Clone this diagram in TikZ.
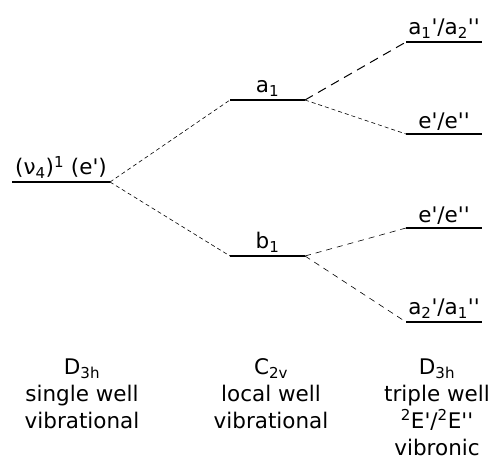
\documentclass[tikz,border=0pt]{standalone}
\usepackage{fontspec}
\setmainfont{DejaVu Sans}[Ligatures=TeXOff]
\begin{document}
\begin{tikzpicture}[x=1pt, y=-1pt,
    level/.style={line width=2.8pt},
    link/.style={line width=0.6pt, dash pattern=on 4pt off 3pt},
    linkwide/.style={line width=1pt, dash pattern=on 9pt off 6pt},
    lbl/.style={above=1pt, inner sep=1pt, font=\fontsize{21.5}{24}\selectfont},
    col/.style={align=center, font=\fontsize{21.5}{27}\selectfont}]

            \useasboundingbox (0,0) rectangle (494,462);

            % Draw the D3h single well level
            \draw[level] (12,182) coordinate (gL) -- (110,182) coordinate (gR)
                node[lbl, midway] (gT) {(ν\textsubscript{4})\textsuperscript{1} (e')};

            % Draw the C2v levels
            \draw[level] (230,100) coordinate (aL) -- (305,100) coordinate (aR)
                node[lbl, midway] (aT) {a\textsubscript{1}};
            \draw[level] (230,256) coordinate (bL) -- (305,256) coordinate (bR)
                node[lbl, midway] (bT) {b\textsubscript{1}};

            % Draw the triple well levels
            \draw[level] (406,42) coordinate (r1L) -- (482,42) coordinate (r1R)
                node[lbl, midway] (r1T) {a\textsubscript{1}'/a\textsubscript{2}''};
            \draw[level] (406,134) coordinate (r2L) -- (482,134) coordinate (r2R)
                node[lbl, midway] (r2T) {e'/e''};
            \draw[level] (406,228) coordinate (r3L) -- (482,228) coordinate (r3R)
                node[lbl, midway] (r3T) {e'/e''};
            \draw[level] (406,322) coordinate (r4L) -- (482,322) coordinate (r4R)
                node[lbl, midway] (r4T) {a\textsubscript{2}'/a\textsubscript{1}''};

            % Correlation lines
            \draw[link] (gR) -- (aL);
            \draw[link] (gR) -- (bL);
            \draw[linkwide] (aR) -- (r1L);
            \draw[link] (aR) -- (r2L);
            \draw[link, dash pattern=on 6pt off 5pt] (bR) -- (r3L);
            \draw[link, dash pattern=on 6pt off 5pt] (bR) -- (r4L);

            % Column captions
            \node[col, anchor=north] (c1) at (82,355)
                {D\textsubscript{3h}\\single well\\vibrational};
            \node[col, anchor=north] (c2) at (271,355)
                {C\textsubscript{2v}\\local well\\vibrational};
            \node[col, anchor=north] (c3) at (437,355)
                {D\textsubscript{3h}\\triple well\\\textsuperscript{2}E'/\textsuperscript{2}E''\\vibronic};

        \end{tikzpicture}
\end{document}
